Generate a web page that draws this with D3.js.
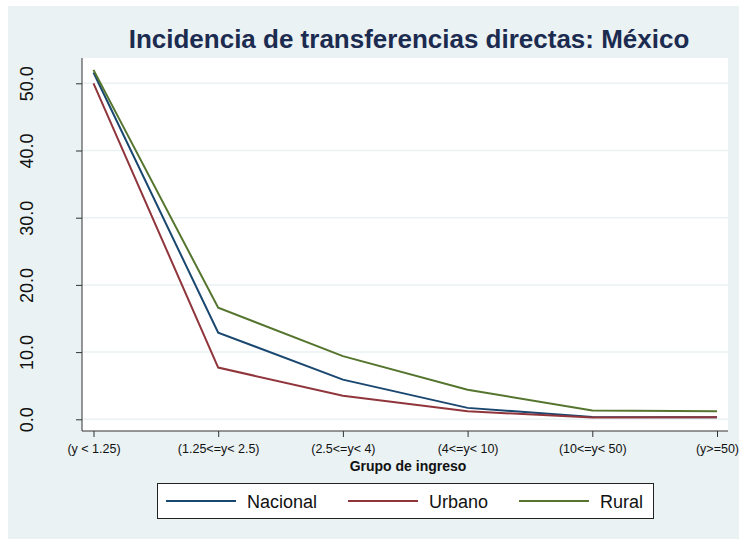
<!DOCTYPE html>
<html>
<head>
<meta charset="utf-8">
<script src="https://cdn.jsdelivr.net/npm/d3@7"></script>
<style>
  body { margin: 0; background: #ffffff; }
  svg { display: block; font-family: "Liberation Sans", Arial, sans-serif; }
</style>
</head>
<body>
<div id="chart"></div>
<script>
// data
var groups   = ["(y < 1.25)", "(1.25<=y< 2.5)", "(2.5<=y< 4)", "(4<=y< 10)", "(10<=y< 50)", "(y>=50)"];
var nacional = [51.6, 12.9, 5.9, 1.7, 0.35, 0.3];
var urbano   = [50.0, 7.7, 3.5, 1.2, 0.25, 0.3];
var rural    = [52.0, 16.6, 9.4, 4.4, 1.3, 1.2];
var yTicks   = [0, 10, 20, 30, 40, 50];

var series = [
  { name: "Nacional", values: nacional, color: "#1a476f" },
  { name: "Urbano",   values: urbano,   color: "#90353b" },
  { name: "Rural",    values: rural,    color: "#55752f" }
];

var width = 739, height = 539;
var plot = { left: 82, right: 728, top: 58, bottom: 431 };

var svg = d3.select("#chart").append("svg")
  .attr("width", width)
  .attr("height", height);

// graph region background
svg.append("rect")
  .attr("x", 8).attr("y", 6)
  .attr("width", width - 8).attr("height", height - 6)
  .attr("fill", "#eaf2f3");

// plot region
svg.append("rect")
  .attr("x", plot.left).attr("y", plot.top)
  .attr("width", plot.right - plot.left).attr("height", plot.bottom - plot.top)
  .attr("fill", "#ffffff");

var x = d3.scalePoint().domain(groups).range([93.5, 717]);
var y = d3.scaleLinear().domain([0, 50]).range([419.3, 83.3]);

// grid lines
svg.append("g").selectAll("line")
  .data(yTicks)
  .join("line")
  .attr("x1", plot.left).attr("x2", plot.right)
  .attr("y1", d => y(d)).attr("y2", d => y(d))
  .attr("stroke", "#eaf2f3")
  .attr("stroke-width", 1.5);

// y axis
var yAxis = svg.append("g")
  .attr("transform", "translate(" + plot.left + ",0)")
  .call(d3.axisLeft(y).tickValues(yTicks).tickSize(6).tickPadding(0).tickFormat(d3.format(".1f")));
yAxis.select(".domain").attr("d", "M0," + plot.top + "V" + plot.bottom).attr("stroke", "#333");
yAxis.selectAll(".tick line").attr("stroke", "#333");
yAxis.selectAll(".tick text")
  .attr("x", null).attr("dy", null)
  .attr("transform", "translate(-49,0) rotate(-90)")
  .attr("text-anchor", "middle")
  .attr("font-size", 18)
  .attr("fill", "#111");

// x axis
var xAxis = svg.append("g")
  .attr("transform", "translate(0," + plot.bottom + ")")
  .call(d3.axisBottom(x).tickSize(6).tickPadding(0));
xAxis.select(".domain").attr("d", "M" + plot.left + ",0H" + plot.right).attr("stroke", "#333");
xAxis.selectAll(".tick line").attr("stroke", "#333");
xAxis.selectAll(".tick text")
  .attr("y", 22).attr("dy", null)
  .attr("font-size", 12.5)
  .attr("fill", "#111");

// lines
var line = d3.line()
  .x((d, i) => x(groups[i]))
  .y(d => y(d));

svg.append("g").selectAll("path")
  .data(series)
  .join("path")
  .attr("d", d => line(d.values))
  .attr("fill", "none")
  .attr("stroke", d => d.color)
  .attr("stroke-width", 2);

// title
svg.append("text")
  .attr("x", 409).attr("y", 48)
  .attr("text-anchor", "middle")
  .attr("font-size", 26)
  .attr("font-weight", "bold")
  .attr("fill", "#1c2b50")
  .text("Incidencia de transferencias directas: México");

// x axis title
svg.append("text")
  .attr("x", 408).attr("y", 471)
  .attr("text-anchor", "middle")
  .attr("font-size", 14)
  .attr("font-weight", "bold")
  .attr("fill", "#111")
  .text("Grupo de ingreso");

// legend
var legend = svg.append("g");
legend.append("rect")
  .attr("x", 157.5).attr("y", 483.5)
  .attr("width", 496).attr("height", 35)
  .attr("fill", "#ffffff")
  .attr("stroke", "#222")
  .attr("stroke-width", 1);

var legendX = [166, 348, 519];
var items = legend.selectAll("g.item")
  .data(series)
  .join("g")
  .attr("class", "item")
  .attr("transform", (d, i) => "translate(" + legendX[i] + ",501)");
items.append("line")
  .attr("x1", 0).attr("x2", 70)
  .attr("stroke", d => d.color)
  .attr("stroke-width", 2);
items.append("text")
  .attr("x", 81).attr("y", 6.5)
  .attr("font-size", 18)
  .attr("fill", "#111")
  .text(d => d.name);
</script>
</body>
</html>
